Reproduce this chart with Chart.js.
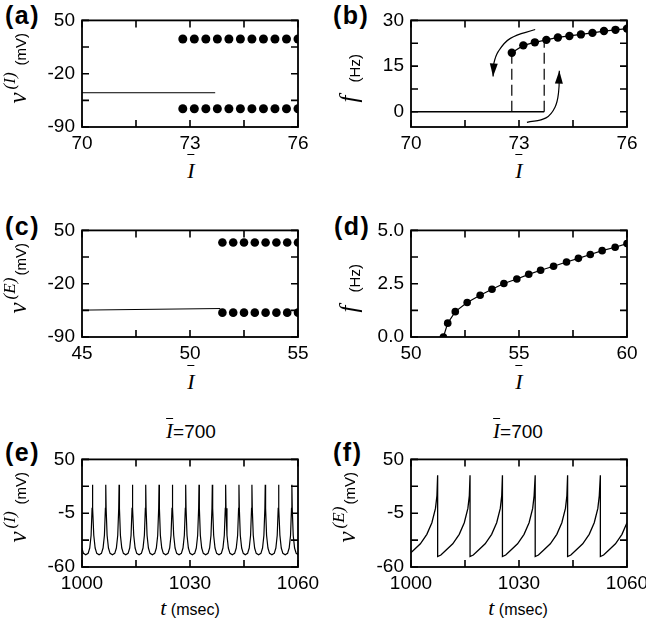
<!DOCTYPE html>
<html>
<head>
<meta charset="utf-8">
<script src="https://cdn.jsdelivr.net/npm/chart.js@4.4.1/dist/chart.umd.min.js"></script>
<style>
  body { margin: 0; width: 646px; height: 619px; position: relative; overflow: hidden; background: #fff;
         font-family: "Liberation Sans", Arial, Helvetica, sans-serif; color: #000; }
  canvas { position: absolute; }
  .lab { position: absolute; font-weight: bold; font-size: 25px; line-height: 1; letter-spacing: 1.5px; }
  .m { font-family: "Liberation Serif", "DejaVu Serif", Times, serif; font-style: italic; }
  .ov { display: inline-block; border-top: 1.3px solid #000; padding-top: 5px; line-height: 1; }
  .xt { position: absolute; transform: translateX(-50%); white-space: nowrap; line-height: 1; }
</style>
</head>
<body>

<!-- буквы панелей -->
<div class="lab" style="left:5px;top:3px">(a)</div>
<div class="lab" style="left:333px;top:3px">(b)</div>
<div class="lab" style="left:5px;top:214px">(c)</div>
<div class="lab" style="left:334px;top:214px">(d)</div>
<div class="lab" style="left:5px;top:440px">(e)</div>
<div class="lab" style="left:333px;top:440px">(f)</div>

<!-- подписи оси x -->
<div class="xt m" style="left:191px;top:154px;font-size:22px"><span class="ov">I</span></div>
<div class="xt m" style="left:519px;top:154px;font-size:22px"><span class="ov">I</span></div>
<div class="xt m" style="left:191px;top:365px;font-size:22px"><span class="ov">I</span></div>
<div class="xt m" style="left:519px;top:365px;font-size:22px"><span class="ov">I</span></div>
<div class="xt" style="left:190px;top:597px;font-size:16px"><span class="m" style="font-size:22px">t</span> (msec)</div>
<div class="xt" style="left:518px;top:597px;font-size:16px"><span class="m" style="font-size:22px">t</span> (msec)</div>

<!-- заголовки (e), (f) -->
<div class="xt" style="left:191px;top:418px;font-size:19px"><span class="m ov" style="font-size:21px;padding-top:2px">I</span>=700</div>
<div class="xt" style="left:518px;top:418px;font-size:19px"><span class="m ov" style="font-size:21px;padding-top:2px">I</span>=700</div>

<script>
// ---- данные ----

// (a) интернейрон: стационарное состояние и max/min осцилляций
const aRestI = [70, 73.7];
const aRestV = [-45, -45];
const aOscI = [72.8, 73.12, 73.44, 73.76, 74.08, 74.4, 74.72, 75.04, 75.36, 75.68, 76.0];
const aMaxV = [25.5, 25.5, 25.5, 25.5, 25.5, 25.5, 25.5, 25.5, 25.5, 25.5, 25.5];
const aMinV = [-66, -66, -66, -66, -66, -66, -66, -66, -66, -66, -66];

// (b) частота интернейрона, гистерезис
const bOscI = [72.8, 73.12, 73.44, 73.76, 74.08, 74.4, 74.72, 75.04, 75.36, 75.68, 76.0];
const bFreq = [19.4, 21.8, 22.8, 23.6, 24.4, 24.9, 25.4, 25.9, 26.5, 26.9, 27.3];
const bZeroI = [70, 73.7];
const bZeroF = [0, 0];
const bDashLoI = [72.8, 72.8];
const bDashLoF = [0, 19.4];
const bDashHiI = [73.7, 73.7];
const bDashHiF = [0, 23.5];
const bArrowDownI = [73.45, 72.76, 72.43, 72.3, 72.28];
const bArrowDownF = [27.0, 24.1, 19.9, 15.8, 11.6];
const bArrowUpI = [73.22, 73.75, 74.0, 74.1, 74.12];
const bArrowUpF = [-3.5, -2.0, 1.5, 6.5, 13.5];

// (c) возбуждающий нейрон
const cRestI = [45, 51.4];
const cRestV = [-54.7, -52.6];
const cOscI = [51.5, 52, 52.5, 53, 53.5, 54, 54.5, 55];
const cMaxV = [34.2, 34.2, 34.2, 34.2, 34.2, 34.2, 34.2, 34.2];
const cMinV = [-58, -58, -58, -58, -58, -58, -58, -58];

// (d) частота возбуждающего нейрона
const dI = [51.5, 51.7, 52.05, 52.6, 53.2, 53.75, 54.3, 54.9, 55.45, 56.0, 56.6, 57.2, 57.75, 58.3, 58.85, 59.45, 60.0];
const dFreq = [0, 0.65, 1.19, 1.62, 1.96, 2.24, 2.51, 2.72, 2.94, 3.13, 3.32, 3.52, 3.69, 3.87, 4.05, 4.21, 4.38];

// (e) спайки интернейрона: моменты пиков и форма одного цикла вокруг пика
const ePeaks = [999.2, 1002.9, 1006.6, 1010.3, 1014.0, 1017.7, 1021.4, 1025.1, 1028.8, 1032.5,
                1036.2, 1039.9, 1043.6, 1047.2, 1050.9, 1054.6, 1058.3, 1062.0];
const eShapeT = [-1.85, -1.2, -0.75, -0.37, -0.1, 0, 0.1, 0.37, 0.75, 1.2];
const eShapeV = [-47.5, -46, -40.6, -27.6, 0, 24, 0, -27.6, -40.6, -46];

// (f) спайки возбуждающего нейрона: пик, сброс, затем подъём
const fPeaks = [998.4, 1007.4, 1016.4, 1025.4, 1034.5, 1043.5, 1052.6, 1061.6];
const fPeakV = 33.8;
const fResetV = -49.3;
const fRiseT = [0.9, 2.3, 4.2, 6.0, 7.4, 8.4, 8.8];
const fRiseV = [-47.7, -42.8, -36.3, -26.6, -14.7, -0.1, 12.8];

// деления осей: все засечки и подписанные
const xTicksA = [70, 71.5, 73, 74.5, 76], xLabA = [70, 73, 76];
const yTicksA = [-90, -55, -20, 15, 50], yLabA = [-90, -20, 50];
const yTicksB = [0, 7.5, 15, 22.5, 30], yLabB = [0, 15, 30];
const xTicksC = [45, 47.5, 50, 52.5, 55], xLabC = [45, 50, 55];
const xTicksD = [50, 52.5, 55, 57.5, 60], xLabD = [50, 55, 60];
const yTicksD = [0, 1.25, 2.5, 3.75, 5], yLabD = [0, 2.5, 5];
const xTicksT = [1000, 1015, 1030, 1045, 1060], xLabT = [1000, 1030, 1060];
const yTicksT = [-60, -32.5, -5, 22.5, 50], yLabT = [-60, -5, 50];

// ---- отрисовка ----
const FONT = '"Liberation Sans", Arial, Helvetica, sans-serif';
const SERIF = 'italic {s}px "Liberation Serif", "DejaVu Serif", Times, serif';
const YW = 80, XH = 34, PT = 12, PR = 28, PW = 216;

// части повёрнутой подписи оси y: текст, шрифт, точка базовой линии (относительно левого верхнего угла области)
function nuTitle(sup) {
    return [
        { t: 'ν', f: SERIF.replace('{s}', 25), x: -56, y: 83 },
        { t: sup, f: SERIF.replace('{s}', 17), x: -67, y: 69 },
        { t: '(mV)', f: '15px ' + FONT, x: -56, y: 45 }
    ];
}
function fTitle() {
    return [
        { t: 'f', f: SERIF.replace('{s}', 25), x: -54, y: 82 },
        { t: '(Hz)', f: '15px ' + FONT, x: -51, y: 62 }
    ];
}

// рамка со всех сторон и засечки внутрь, наконечники стрелок, подпись оси y
const framePlugin = {
    id: 'frame',
    afterDatasetsDraw(chart, args, opts) {
        const { ctx, chartArea: a, scales } = chart;
        ctx.save();
        ctx.strokeStyle = '#000';
        ctx.lineWidth = 1.8;
        ctx.strokeRect(a.left, a.top, a.right - a.left, a.bottom - a.top);
        ctx.lineWidth = 1.6;
        ctx.beginPath();
        scales.x.ticks.forEach(t => {
            const px = scales.x.getPixelForValue(t.value);
            ctx.moveTo(px, a.bottom); ctx.lineTo(px, a.bottom - 7);
            ctx.moveTo(px, a.top); ctx.lineTo(px, a.top + 7);
        });
        scales.y.ticks.forEach(t => {
            const py = scales.y.getPixelForValue(t.value);
            ctx.moveTo(a.left, py); ctx.lineTo(a.left + 7, py);
            ctx.moveTo(a.right, py); ctx.lineTo(a.right - 7, py);
        });
        ctx.stroke();

        chart.data.datasets.forEach((ds, i) => {
            if (!ds.arrow) return;
            const pts = chart.getDatasetMeta(i).data;
            const p = pts[pts.length - 1], q = pts[pts.length - 2];
            const ang = Math.atan2(p.y - q.y, p.x - q.x);
            const len = 13, hw = 4;
            const bx = p.x - len * Math.cos(ang), by = p.y - len * Math.sin(ang);
            ctx.fillStyle = '#000';
            ctx.beginPath();
            ctx.moveTo(p.x, p.y);
            ctx.lineTo(bx + hw * Math.sin(ang), by - hw * Math.cos(ang));
            ctx.lineTo(bx - hw * Math.sin(ang), by + hw * Math.cos(ang));
            ctx.closePath();
            ctx.fill();
        });

        (opts.title || []).forEach(part => {
            ctx.save();
            ctx.translate(a.left + part.x, a.top + part.y);
            ctx.rotate(-Math.PI / 2);
            ctx.font = part.f;
            ctx.fillStyle = '#000';
            ctx.textAlign = 'left';
            ctx.textBaseline = 'alphabetic';
            ctx.fillText(part.t, 0, 0);
            ctx.restore();
        });
        ctx.restore();
    }
};

function axis(min, max, allTicks, shown, isX, fmt) {
    return {
        type: 'linear',
        min: min,
        max: max,
        grid: { display: false, drawTicks: false },
        border: { display: false },
        afterBuildTicks: s => { s.ticks = allTicks.map(v => ({ value: v })); },
        afterFit: s => { if (isX) s.height = XH; else s.width = YW; },
        ticks: {
            autoSkip: false,
            maxRotation: 0,
            color: '#000',
            padding: isX ? 5 : 7,
            font: { family: FONT, size: 19 },
            callback: v => shown.includes(v) ? (fmt ? fmt(v) : String(v)) : ''
        }
    };
}

const xy = (xs, ys) => xs.map((x, i) => ({ x: x, y: ys[i] }));

function line(xs, ys, extra) {
    return Object.assign({
        data: xy(xs, ys), showLine: true, borderColor: '#000', borderWidth: 1.2,
        pointRadius: 0, fill: false, tension: 0
    }, extra || {});
}

function dots(xs, ys, r, joined) {
    return {
        data: xy(xs, ys), showLine: !!joined, borderColor: '#000', borderWidth: 1.2,
        pointRadius: r, pointBackgroundColor: '#000', pointBorderWidth: 0, tension: 0
    };
}

function panel(left, top, h, title, datasets, xAx, yAx) {
    const cv = document.createElement('canvas');
    const w = YW + PW + PR, ch = PT + h + XH;
    cv.width = w; cv.height = ch;
    cv.style.left = (left - YW) + 'px';
    cv.style.top = (top - PT) + 'px';
    cv.style.width = w + 'px';
    cv.style.height = ch + 'px';
    document.body.appendChild(cv);
    return new Chart(cv, {
        type: 'scatter',
        data: { datasets: datasets },
        options: {
            responsive: false,
            animation: false,
            events: [],
            layout: { padding: { top: PT, right: PR, left: 0, bottom: 0 } },
            plugins: { legend: { display: false }, tooltip: { enabled: false }, frame: { title: title } },
            scales: { x: xAx, y: yAx }
        },
        plugins: [framePlugin]
    });
}

// серия мембранного потенциала из моментов пиков и формы цикла
function trainE() {
    const xs = [], ys = [];
    ePeaks.forEach(p => eShapeT.forEach((o, i) => { xs.push(p + o); ys.push(eShapeV[i]); }));
    return [xs, ys];
}

function trainF() {
    const xs = [], ys = [];
    fPeaks.forEach(p => {
        xs.push(p, p); ys.push(fPeakV, fResetV);
        fRiseT.forEach((o, i) => { xs.push(p + o); ys.push(fRiseV[i]); });
    });
    return [xs, ys];
}

document.addEventListener('DOMContentLoaded', function() {
    // (a)
    panel(82, 14, 113, nuTitle('(I)'), [
        line(aRestI, aRestV, { borderWidth: 1 }),
        dots(aOscI, aMaxV, 4.5),
        dots(aOscI, aMinV, 4.5)
    ], axis(70, 76, xTicksA, xLabA, true), axis(-90, 50, yTicksA, yLabA, false));

    // (b)
    panel(411, 14, 113, fTitle(), [
        line(bZeroI, bZeroF, { borderWidth: 1.3 }),
        line(bDashLoI, bDashLoF, { borderDash: [11, 5] }),
        line(bDashHiI, bDashHiF, { borderDash: [11, 5] }),
        dots(bOscI, bFreq, 4.2, true),
        line(bArrowDownI, bArrowDownF, { tension: 0.4, arrow: true }),
        line(bArrowUpI, bArrowUpF, { tension: 0.4, arrow: true })
    ], axis(70, 76, xTicksA, xLabA, true), axis(-5, 30, yTicksB, yLabB, false));

    // (c)
    panel(82, 224, 113, nuTitle('(E)'), [
        line(cRestI, cRestV, { borderWidth: 1 }),
        dots(cOscI, cMaxV, 4.3),
        dots(cOscI, cMinV, 4.3)
    ], axis(45, 55, xTicksC, xLabC, true), axis(-90, 50, yTicksA, yLabA, false));

    // (d)
    panel(411, 224, 113, fTitle(), [
        dots(dI, dFreq, 3.8, true)
    ], axis(50, 60, xTicksD, xLabD, true), axis(0, 5, yTicksD, yLabD, false, v => v.toFixed(1)));

    // (e)
    const [eT, eV] = trainE();
    panel(82, 453, 114, nuTitle('(I)'), [
        line(eT, eV, { borderWidth: 1.2 })
    ], axis(1000, 1060, xTicksT, xLabT, true), axis(-60, 50, yTicksT, yLabT, false));

    // (f)
    const [fT, fV] = trainF();
    panel(411, 453, 114, nuTitle('(E)'), [
        line(fT, fV, { borderWidth: 1.3 })
    ], axis(1000, 1060, xTicksT, xLabT, true), axis(-60, 50, yTicksT, yLabT, false));
});
</script>
</body>
</html>
